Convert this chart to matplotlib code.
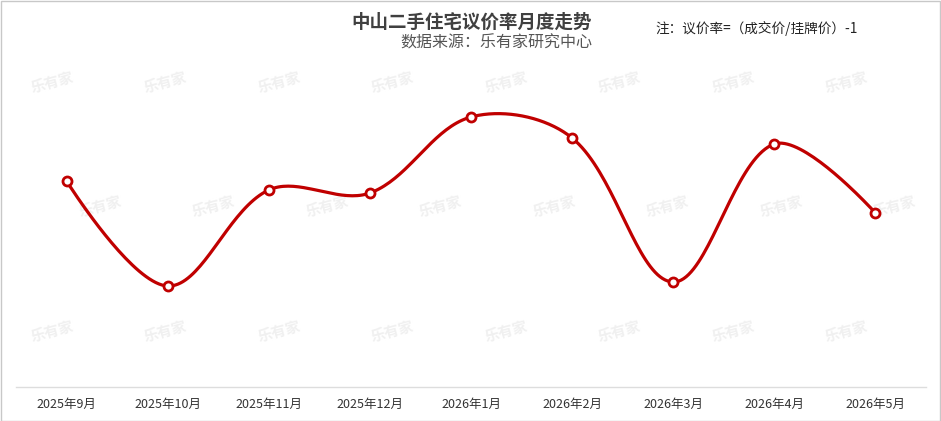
import numpy as np
import matplotlib.pyplot as plt
from matplotlib.patches import Rectangle

plt.rcParams['font.family'] = ['Noto Sans CJK SC', 'DejaVu Sans']

# 数据
months = ['2025年9月', '2025年10月', '2025年11月', '2025年12月', '2026年1月',
          '2026年2月', '2026年3月', '2026年4月', '2026年5月']
rate = [-4.64, -5.69, -4.73, -4.76, -4.00, -4.21, -5.65, -4.27, -4.96]  # 议价率(%)

title = '中山二手住宅议价率月度走势'
subtitle = '数据来源：乐有家研究中心'
note = '注：议价率=（成交价/挂牌价）-1'

red = '#c00000'


def smooth_curve(xs, ys, sx=101.1, sy=100.0, smooth=0.35, n=40):
    # 类似 echarts 的平滑折线 (三次贝塞尔)
    p = np.column_stack([np.array(xs) * sx, np.array(ys) * sy])
    m = len(p)
    cin = p.copy()
    cout = p.copy()
    for i in range(1, m - 1):
        v = p[i + 1] - p[i - 1]
        d0 = np.hypot(*(p[i] - p[i - 1]))
        d1 = np.hypot(*(p[i + 1] - p[i]))
        r = d0 / (d0 + d1)
        cin[i] = p[i] - v * smooth * r
        cout[i] = p[i] + v * smooth * (1 - r)
    t = np.linspace(0, 1, n)[:, None]
    seg = []
    for i in range(m - 1):
        b = ((1 - t) ** 3 * p[i] + 3 * (1 - t) ** 2 * t * cout[i]
             + 3 * (1 - t) * t ** 2 * cin[i + 1] + t ** 3 * p[i + 1])
        seg.append(b)
    c = np.vstack(seg)
    return c[:, 0] / sx, c[:, 1] / sy


fig = plt.figure(figsize=(9.41, 4.21), dpi=100)
W, H = 941, 421

# 水印
for r, yy in enumerate([83, 207, 332]):
    off = 0 if r % 2 == 0 else 48
    for k in range(8):
        xx = 52 + off + k * 113.5
        if xx > W - 20:
            continue
        fig.text(xx / W, 1 - yy / H, '乐有家', rotation=15, color='#f0f0f0',
                 fontsize=10.5, fontweight='bold', ha='center', va='center', zorder=-1)

ax = fig.add_axes([16 / W, 34 / H, 910 / W, 327 / H])
ax.set_facecolor('none')

x = np.arange(len(months))
cx, cy = smooth_curve(x, rate)
ax.plot(cx, cy, color=red, lw=2.3, solid_capstyle='round', zorder=3)
ax.plot(x, rate, 'o', ms=6.5, mfc='white', mec=red, mew=2, zorder=4)

ax.set_xlim(-0.5, len(months) - 0.5)
ax.set_ylim(-6.70, -3.43)
ax.set_yticks([])
ax.set_xticks(x)
ax.set_xticklabels(months, fontsize=9, color='#333333')
ax.tick_params(axis='x', length=0, pad=8)
for s in ['top', 'right', 'left']:
    ax.spines[s].set_visible(False)
ax.spines['bottom'].set_color('#dddddd')
ax.spines['bottom'].set_linewidth(1)

fig.text(472 / W, 1 - 22 / H, title, ha='center', va='center', fontsize=13.3,
         fontweight='bold', color='#404040')
fig.text(592 / W, 1 - 43 / H, subtitle, ha='right', va='center', fontsize=11.5,
         color='#555555')
fig.text(655 / W, 1 - 28 / H, note, ha='left', va='center', fontsize=9.8,
         color='#222222')

fig.patches.append(Rectangle((0.5 / W, 0.5 / H), 1 - 1.5 / W, 1 - 1.5 / H,
                             transform=fig.transFigure, fill=False,
                             edgecolor='#c8c8c8', lw=1))

fig.savefig('out.png', dpi=100)
